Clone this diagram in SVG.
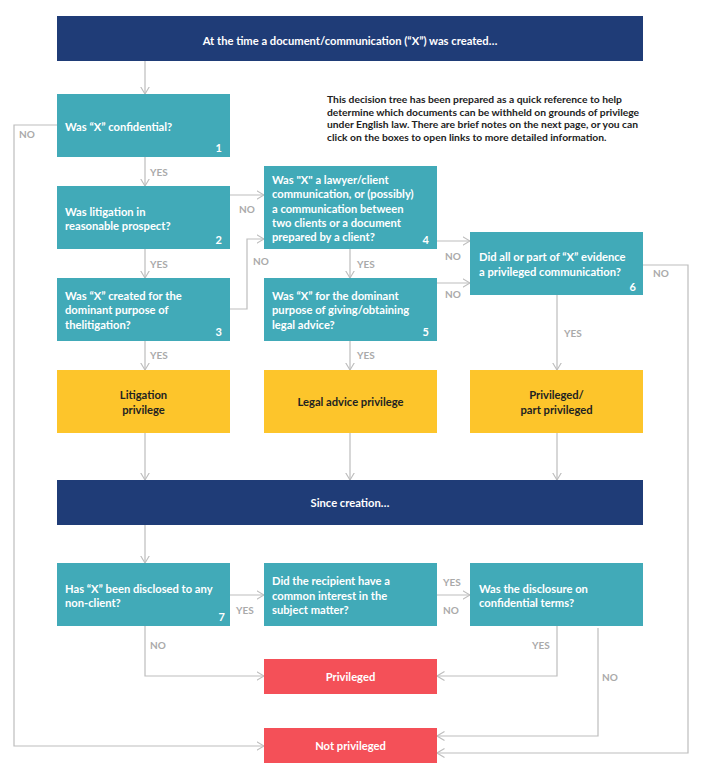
<svg xmlns="http://www.w3.org/2000/svg" width="708" height="779" viewBox="0 0 708 779">
<style>
.navy{fill:#1F3C77}
.teal{fill:#41AAB8}
.yel{fill:#FDC52B}
.red{fill:#F45058}
.t{font-family:Lato,"Open Sans","Liberation Sans",sans-serif;font-weight:bold;font-size:11.2px;fill:#fff}
.d{font-family:Lato,"Open Sans","Liberation Sans",sans-serif;font-weight:bold;font-size:11.2px;fill:#222}
.n{font-family:Lato,"Open Sans","Liberation Sans",sans-serif;font-weight:bold;font-size:11px;fill:#fff;text-anchor:end}
.c{text-anchor:middle}
.intro{font-family:Lato,"Open Sans","Liberation Sans",sans-serif;font-weight:bold;font-size:10.3px;fill:#222}
.lbl{font-family:Lato,"Open Sans","Liberation Sans",sans-serif;font-weight:bold;font-size:10px;fill:#AAAAAA}
.ln{fill:none;stroke:#BDBDBD;stroke-width:1.2;marker-end:url(#ah)}
</style>
<defs>
<marker id="ah" viewBox="0 0 8 10" refX="7.5" refY="5" markerWidth="8" markerHeight="10" markerUnits="userSpaceOnUse" orient="auto">
<path d="M0,0.5 L7.5,5 L0,9.5" fill="none" stroke="#BDBDBD" stroke-width="1.1"/>
</marker>
</defs>
<rect width="708" height="779" fill="#fff"/>

<g id="connectors">
<path class="ln" d="M145,61 V94"/>
<path class="ln" d="M145,157 V186"/>
<path class="ln" d="M57,125 H14 V746 H264"/>
<path class="ln" d="M145,249 V278"/>
<path class="ln" d="M230,195 H264"/>
<path class="ln" d="M230,309 H247 V239 H264"/>
<path class="ln" d="M145,341 V370"/>
<path class="ln" d="M350,249 V278"/>
<path class="ln" d="M437,241 H470"/>
<path class="ln" d="M437,283 H470"/>
<path class="ln" d="M350,341 V370"/>
<path class="ln" d="M557,295 V370"/>
<path class="ln" d="M643,265 H688 V753 H437"/>
<path class="ln" d="M145,433 V480"/>
<path class="ln" d="M350,433 V480"/>
<path class="ln" d="M557,433 V480"/>
<path class="ln" d="M145,525 V563"/>
<path class="ln" d="M230,595 H264"/>
<path class="ln" d="M437,595 H470"/>
<path class="ln" d="M145,626 V676 H264"/>
<path class="ln" d="M557,626 V676 H437"/>
<path class="ln" d="M598,628 V736 H437"/>
<text class="lbl" x="150" y="176">YES</text>
<text class="lbl" x="150" y="268">YES</text>
<text class="lbl" x="150" y="359">YES</text>
<text class="lbl" x="19" y="138">NO</text>
<text class="lbl" x="239" y="213">NO</text>
<text class="lbl" x="253" y="265">NO</text>
<text class="lbl" x="357" y="268">YES</text>
<text class="lbl" x="357" y="359">YES</text>
<text class="lbl" x="445" y="260">NO</text>
<text class="lbl" x="445" y="298">NO</text>
<text class="lbl" x="653" y="277">NO</text>
<text class="lbl" x="564" y="337">YES</text>
<text class="lbl" x="236" y="614">YES</text>
<text class="lbl" x="150" y="649">NO</text>
<text class="lbl" x="443" y="586">YES</text>
<text class="lbl" x="443" y="614">NO</text>
<text class="lbl" x="532" y="649">YES</text>
<text class="lbl" x="602" y="681">NO</text>
</g>

<g id="start">
<rect class="navy" x="57" y="16" width="586" height="45"/>
<text class="t c" x="350" y="45">At the time a document/communication (“X”) was created…</text>
</g>

<g id="intro">
<text class="intro" x="327" y="103">This decision tree has been prepared as a quick reference to help</text>
<text class="intro" x="327" y="116">determine which documents can be withheld on grounds of privilege</text>
<text class="intro" x="327" y="128">under English law. There are brief notes on the next page, or you can</text>
<text class="intro" x="327" y="141">click on the boxes to open links to more detailed information.</text>
</g>

<g id="q1">
<rect class="teal" x="57" y="94" width="173" height="63"/>
<text class="t" x="65" y="131">Was “X” confidential?</text>
<text class="n" x="222" y="152">1</text>
</g>

<g id="q2">
<rect class="teal" x="57" y="186" width="173" height="63"/>
<text class="t" x="65" y="216">Was litigation in</text>
<text class="t" x="65" y="230">reasonable prospect?</text>
<text class="n" x="222" y="244">2</text>
</g>

<g id="q3">
<rect class="teal" x="57" y="278" width="173" height="63"/>
<text class="t" x="65" y="300">Was “X” created for the</text>
<text class="t" x="65" y="314">dominant purpose of</text>
<text class="t" x="65" y="329">thelitigation?</text>
<text class="n" x="222" y="336">3</text>
</g>

<g id="q4">
<rect class="teal" x="264" y="166" width="173" height="83"/>
<text class="t" x="272" y="184">Was "X" a lawyer/client</text>
<text class="t" x="272" y="198">communication, or (possibly)</text>
<text class="t" x="272" y="213">a communication between</text>
<text class="t" x="272" y="227">two clients or a document</text>
<text class="t" x="272" y="241">prepared by a client?</text>
<text class="n" x="429" y="244">4</text>
</g>

<g id="q5">
<rect class="teal" x="264" y="278" width="173" height="63"/>
<text class="t" x="272" y="300">Was “X” for the dominant</text>
<text class="t" x="272" y="314">purpose of giving/obtaining</text>
<text class="t" x="272" y="329">legal advice?</text>
<text class="n" x="429" y="336">5</text>
</g>

<g id="q6">
<rect class="teal" x="470" y="232" width="173" height="63"/>
<text class="t" x="479" y="261">Did all or part of “X” evidence</text>
<text class="t" x="479" y="276">a privileged communication?</text>
<text class="n" x="636" y="291">6</text>
</g>

<g id="litigation-privilege">
<rect class="yel" x="57" y="370" width="173" height="63"/>
<text class="d c" x="143.5" y="399">Litigation</text>
<text class="d c" x="143.5" y="414">privilege</text>
</g>

<g id="legal-advice-privilege">
<rect class="yel" x="264" y="370" width="173" height="63"/>
<text class="d c" x="350.5" y="406">Legal advice privilege</text>
</g>

<g id="part-privileged">
<rect class="yel" x="470" y="370" width="173" height="63"/>
<text class="d c" x="556.5" y="399">Privileged/</text>
<text class="d c" x="556.5" y="414">part privileged</text>
</g>

<g id="since">
<rect class="navy" x="57" y="480" width="586" height="45"/>
<text class="t c" x="350" y="507">Since creation…</text>
</g>

<g id="q7">
<rect class="teal" x="57" y="563" width="173" height="63"/>
<text class="t" x="65" y="593">Has “X” been disclosed to any</text>
<text class="t" x="65" y="607">non-client?</text>
<text class="n" x="225" y="621">7</text>
</g>

<g id="q8">
<rect class="teal" x="264" y="563" width="173" height="63"/>
<text class="t" x="272" y="585">Did the recipient have a</text>
<text class="t" x="272" y="600">common interest in the</text>
<text class="t" x="272" y="614">subject matter?</text>
</g>

<g id="q9">
<rect class="teal" x="470" y="563" width="173" height="63"/>
<text class="t" x="479" y="593">Was the disclosure on</text>
<text class="t" x="479" y="607">confidential terms?</text>
</g>

<g id="privileged">
<rect class="red" x="264" y="659" width="173" height="35"/>
<text class="t c" x="350.5" y="681">Privileged</text>
</g>

<g id="not-privileged">
<rect class="red" x="264" y="728" width="173" height="35"/>
<text class="t c" x="350.5" y="750">Not privileged</text>
</g>
</svg>
